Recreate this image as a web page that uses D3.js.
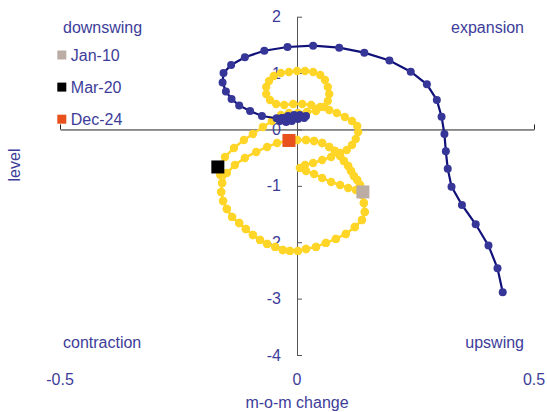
<!DOCTYPE html>
<html>
<head>
<meta charset="utf-8">
<script src="https://cdn.jsdelivr.net/npm/d3@7"></script>
<style>
  html, body { margin: 0; padding: 0; background: #fff; }
  svg { display: block; font-family: "Liberation Sans", Arial, sans-serif; }
</style>
</head>
<body>
<svg id="chart" width="547" height="412"></svg>
<script>
// Business cycle clock: month-on-month change (x) against level (y)

// Yellow series, Jan-10 through Dec-24
const yellowChange = [
  0.139, 0.133, 0.127, 0.120, 0.114, 0.108, 0.099, 0.091, 0.080, 0.068,
  0.053, 0.036, 0.019, 0.000, -0.021, -0.042, -0.063, -0.086, -0.110, -0.131,
  -0.148, -0.158, -0.160, -0.156, -0.148, -0.137, -0.122, -0.108, -0.093, -0.078,
  -0.063, -0.046, -0.030, -0.015, 0.002, 0.019, 0.040, 0.061, 0.082, 0.103,
  0.122, 0.137, 0.143, 0.141, 0.137, 0.124, 0.108, 0.091, 0.072, 0.053,
  0.036, 0.019, 0.006, 0.017, 0.034, 0.053, 0.072, 0.091, 0.105, 0.116,
  0.124, 0.129, 0.127, 0.116, 0.101, 0.084, 0.068, 0.049, 0.030, 0.011,
  -0.008, -0.027, -0.044, -0.057, -0.065, -0.065, -0.059, -0.049, -0.034, -0.017,
  0.000, 0.017, 0.034, 0.049, 0.059, 0.065, 0.068, 0.065, 0.057, 0.040,
  0.021, 0.002, -0.017, -0.034, -0.053, -0.072, -0.093, -0.112, -0.133, -0.152,
  -0.167,
  -0.162, -0.158, -0.160, -0.156, -0.148, -0.137, -0.122, -0.108, -0.093, -0.078,
  -0.063, -0.046, -0.030, -0.015, 0.002, 0.019, 0.040, 0.061, 0.082, 0.103,
  0.122, 0.137, 0.143, 0.141, 0.139, 0.133, 0.127, 0.120, 0.114, 0.108,
  0.099, 0.091, 0.080, 0.068, 0.053, 0.036, 0.019, 0.000, -0.017
];
const yellowLevel = [
  -1.108, -0.984, -0.895, -0.824, -0.736, -0.647, -0.559, -0.470, -0.381, -0.310,
  -0.239, -0.204, -0.186, -0.186, -0.204, -0.239, -0.310, -0.399, -0.505, -0.629,
  -0.771, -0.949, -1.108, -1.268, -1.410, -1.551, -1.658, -1.764, -1.871, -1.959,
  -2.030, -2.083, -2.137, -2.154, -2.154, -2.119, -2.083, -2.012, -1.941, -1.853,
  -1.729, -1.605, -1.463, -1.303, -1.161, -1.073, -1.037, -0.984, -0.931, -0.860,
  -0.789, -0.736, -0.683, -0.629, -0.594, -0.541, -0.488, -0.417, -0.363, -0.275,
  -0.168, -0.044, 0.062, 0.151, 0.222, 0.293, 0.346, 0.399, 0.434, 0.452,
  0.452, 0.434, 0.452, 0.523, 0.629, 0.754, 0.860, 0.949, 1.002, 1.020,
  1.037, 1.037, 1.020, 0.966, 0.878, 0.754, 0.629, 0.505, 0.399, 0.328,
  0.310, 0.293, 0.293, 0.257, 0.151, 0.044, -0.080, -0.186, -0.328, -0.488,
  -0.665,
  -0.807, -0.949, -1.108, -1.268, -1.410, -1.551, -1.658, -1.764, -1.871, -1.959,
  -2.030, -2.083, -2.137, -2.154, -2.154, -2.119, -2.083, -2.012, -1.941, -1.853,
  -1.729, -1.605, -1.463, -1.303, -1.144, -0.984, -0.895, -0.824, -0.736, -0.647,
  -0.559, -0.470, -0.381, -0.310, -0.239, -0.204, -0.186, -0.186, -0.195
];

// Navy series
const navyChange = [
  0.434, 0.423, 0.404, 0.377, 0.348, 0.326, 0.318, 0.314, 0.311, 0.305,
  0.295, 0.274, 0.240, 0.195, 0.142, 0.089, 0.034, -0.020, -0.069, -0.110,
  -0.139, -0.155, -0.157, -0.150, -0.138, -0.122, -0.099, -0.074, -0.043,
  -0.032, -0.021, -0.011, 0.000, 0.011, 0.019, 0.006, -0.006, -0.019, -0.030,
  -0.036, -0.023, -0.011, 0.002, 0.015
];
const navyLevel = [
  -2.887, -2.461, -2.060, -1.681, -1.339, -1.014, -0.695, -0.387, -0.080, 0.227,
  0.523, 0.801, 1.025, 1.223, 1.362, 1.450, 1.486, 1.463, 1.397, 1.280,
  1.144, 1.002, 0.833, 0.674, 0.541, 0.426, 0.328, 0.239, 0.199,
  0.204, 0.168, 0.168, 0.204, 0.222, 0.239, 0.257, 0.257, 0.239, 0.204,
  0.151, 0.133, 0.151, 0.186, 0.204
];

// Highlighted months of the yellow series (index into the series)
const markerLabels = ["Jan-10", "Mar-20", "Dec-24"];
const markerIndex = [0, 100, yellowChange.length - 1];
const markerColors = ["#bbaca4", "#000000", "#e8501c"];

// Quadrant names
const quadrants = [
  { name: "downswing", side: "left", row: "top" },
  { name: "expansion", side: "right", row: "top" },
  { name: "contraction", side: "left", row: "bottom" },
  { name: "upswing", side: "right", row: "bottom" }
];

const xTicks = [-0.5, 0, 0.5];
const yTicks = [2, 1, 0, -1, -2, -3, -4];

const textColor = "#3d3d99";
const yellow = "#ffd528";
const navyLine = "#11117a";
const navyDot = "#363699";

const svg = d3.select("#chart");
const x = d3.scaleLinear().domain([-0.5, 0.5]).range([60, 534]);
const y = d3.scaleLinear().domain([-4, 2]).range([355, 16.7]);

// Quadrant captions
svg.append("g").selectAll("text").data(quadrants).join("text")
  .attr("x", d => d.side === "left" ? 63 : 524)
  .attr("y", d => d.row === "top" ? 33 : 348)
  .attr("text-anchor", d => d.side === "left" ? "start" : "end")
  .attr("font-size", 16)
  .attr("fill", textColor)
  .text(d => d.name);

// Horizontal axis through level 0
const xAxis = svg.append("g")
  .attr("transform", `translate(0,${y(0)})`)
  .call(d3.axisTop(x).tickValues(xTicks).tickSizeInner(5).tickSizeOuter(0).tickFormat(""));
xAxis.select(".domain").attr("stroke", "#222");
xAxis.selectAll(".tick line").attr("stroke", "#222");

// Vertical axis through change 0
const yAxis = svg.append("g")
  .attr("transform", `translate(${x(0)},0)`)
  .call(d3.axisLeft(y).tickValues(yTicks).tickSizeInner(-5).tickSizeOuter(0)
    .tickPadding(16).tickFormat(d => String(d)));
yAxis.select(".domain").attr("stroke", "#555");
yAxis.selectAll(".tick line").attr("stroke", "#555");
yAxis.selectAll(".tick text")
  .attr("font-family", "Liberation Sans, Arial, sans-serif")
  .attr("font-size", 16)
  .attr("fill", textColor);

// Horizontal tick labels along the bottom
svg.append("g").selectAll("text").data(xTicks).join("text")
  .attr("x", d => x(d))
  .attr("y", 385)
  .attr("text-anchor", "middle")
  .attr("font-size", 16)
  .attr("fill", textColor)
  .text(d => String(d));

// Axis titles
svg.append("text")
  .attr("x", x(0)).attr("y", 408)
  .attr("text-anchor", "middle")
  .attr("font-size", 16)
  .attr("fill", textColor)
  .text("m-o-m change");
svg.append("text")
  .attr("transform", "translate(20,165) rotate(-90)")
  .attr("text-anchor", "middle")
  .attr("font-size", 16)
  .attr("fill", textColor)
  .text("level");

// Yellow path and beads
const yellowPts = yellowChange.map((c, i) => [c, yellowLevel[i]]);
const line = d3.line().x(d => x(d[0])).y(d => y(d[1]));
svg.append("path")
  .datum(yellowPts)
  .attr("d", line)
  .attr("fill", "none")
  .attr("stroke", yellow)
  .attr("stroke-width", 2.5);
svg.append("g").selectAll("circle").data(yellowPts).join("circle")
  .attr("cx", d => x(d[0]))
  .attr("cy", d => y(d[1]))
  .attr("r", 4.2)
  .attr("fill", yellow);

// Navy path and dots
const navyPts = navyChange.map((c, i) => [c, navyLevel[i]]);
svg.append("path")
  .datum(navyPts)
  .attr("d", line)
  .attr("fill", "none")
  .attr("stroke", navyLine)
  .attr("stroke-width", 2.2);
svg.append("g").selectAll("circle").data(navyPts).join("circle")
  .attr("cx", d => x(d[0]))
  .attr("cy", d => y(d[1]))
  .attr("r", 4)
  .attr("fill", navyDot);

// Highlighted months as squares
const marks = markerIndex.map((idx, i) => ({
  label: markerLabels[i], color: markerColors[i],
  cx: x(yellowChange[idx]), cy: y(yellowLevel[idx])
}));
svg.append("g").selectAll("rect").data(marks).join("rect")
  .attr("x", d => d.cx - 6.5)
  .attr("y", d => d.cy - 6.5)
  .attr("width", 13)
  .attr("height", 13)
  .attr("fill", d => d.color);

// Legend
const legend = svg.append("g").selectAll("g").data(marks).join("g")
  .attr("transform", (d, i) => `translate(57.3,${55 + i * 32.1})`);
legend.append("rect")
  .attr("x", 0).attr("y", -4.5)
  .attr("width", 9).attr("height", 9)
  .attr("fill", d => d.color);
legend.append("text")
  .attr("x", 13.5).attr("y", 5.5)
  .attr("font-size", 16)
  .attr("fill", textColor)
  .text(d => d.label);
</script>
</body>
</html>
